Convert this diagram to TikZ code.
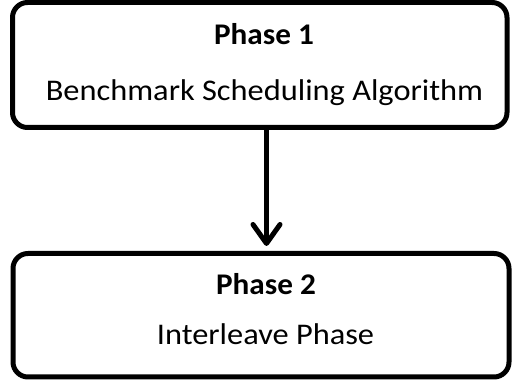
\documentclass[tikz,border=0pt]{standalone}
\usepackage{fontspec}
\setmainfont{Carlito}
\usetikzlibrary{arrows.meta}
% text set a little wider than the font's natural proportions
\newcommand{\widetext}[2]{\scalebox{#1}[1]{#2}}
\begin{document}
\begin{tikzpicture}[x=1pt,y=1pt,
  phasebox/.style={draw=black, line width=5pt, rounded corners=15pt, inner sep=0pt},
  titletext/.style={anchor=base, font=\fontsize{30}{35}\selectfont\bfseries, inner sep=0pt},
  bodytext/.style={anchor=base, font=\fontsize{30}{35}\selectfont, inner sep=0pt},
  flow/.style={line width=5pt, -{Straight Barb[length=19pt, width=27pt, round]}}]
  \useasboundingbox (0,0) rectangle (512,-387);
  % the two phase boxes
  \node[phasebox, minimum width=494.5pt, minimum height=125pt] (b1) at (259.75,-65) {};
  \node[phasebox, minimum width=496pt, minimum height=123.5pt] (b2) at (261,-315.25) {};
  % labels
  \node[titletext] (t1) at (264,-45) {\widetext{1.04}{Phase 1}};
  \node[bodytext] (s1) at (264.5,-101) {\widetext{1.08}{Benchmark Scheduling Algorithm}};
  \node[titletext] (t2) at (266,-295) {\widetext{1.04}{Phase 2}};
  \node[bodytext] (s2) at (265.5,-345) {\widetext{1.08}{Interleave Phase}};
  % connector
  \draw[flow, shorten >=5pt] ([xshift=6.75pt]b1.south) -- ([xshift=6.75pt]b1.south |- b2.north);
\end{tikzpicture}
\end{document}
